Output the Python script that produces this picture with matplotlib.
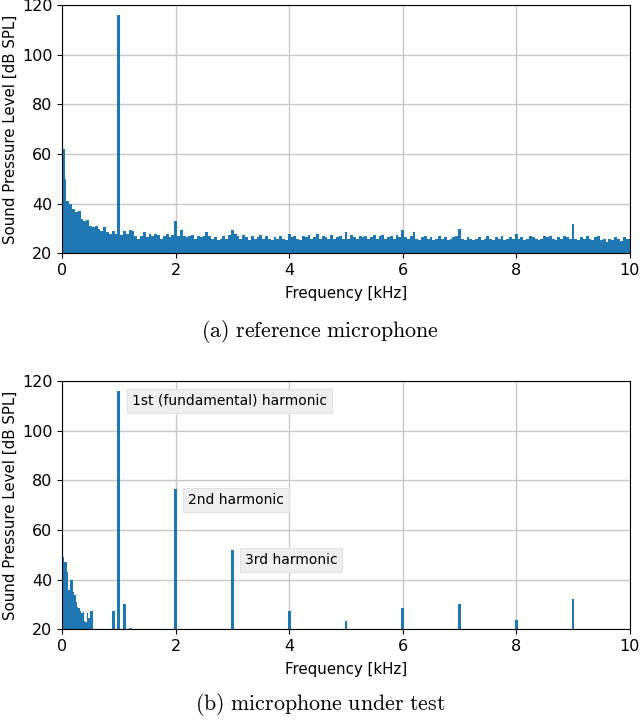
import numpy as np
import matplotlib
matplotlib.use("Agg")
import matplotlib.pyplot as plt

plt.rcParams['mathtext.fontset'] = 'cm'

# ---------------- data: reference microphone (0.05 kHz bins) ----------------
ref_step_khz = 0.05
ref_0_1 = [62, 50, 41, 40, 38, 36.5, 37, 34, 33, 33.5, 31, 30.5, 31, 30, 29, 30.5, 28.5, 28, 29, 28]
ref_1 = [116]
ref_1_2 = [27.5, 29, 28, 29.5, 29, 27, 26, 27, 28.5, 26.5, 28, 27, 28, 27.5, 26, 27, 28, 26.5, 27.5, 33]
ref_2_3 = [27, 29.5, 27, 26.5, 27, 27.5, 26, 27, 26.5, 27, 28.5, 27, 26, 26.5, 25.5, 26, 27, 26, 27.5, 29.5]
ref_3_4 = [28, 27, 26, 27.5, 26.5, 25.5, 27, 26, 26.5, 27.5, 26, 27, 26, 25.5, 26.5, 26, 27, 26, 25.5, 28]
ref_4_5 = [26.5, 27, 26, 25.5, 27, 26.5, 27.5, 26, 26.5, 28, 26, 27, 26.5, 26, 27.5, 26, 26.5, 27, 26, 28.5]
ref_5_6 = [26, 27.5, 26.5, 26, 27, 26.5, 27, 26, 26.5, 27.5, 26, 27, 27.5, 26, 26.5, 27, 26, 27.5, 26.5, 29.5]
ref_6_7 = [26.5, 26, 27, 28.5, 26, 25.5, 26.5, 27, 26, 26.5, 25.5, 26, 27, 26, 26.5, 25.5, 26, 26.5, 27, 30]
ref_7_8 = [26, 25.5, 26.5, 26, 25.5, 26, 26.5, 25.5, 26, 27, 26, 25.5, 26.5, 26, 27, 25.5, 26, 26.5, 26, 28]
ref_8_9 = [26, 26.5, 25.5, 26, 27, 26.5, 26, 25.5, 26, 27, 26.5, 27, 26, 25.5, 26.5, 26, 27, 26.5, 26, 32]
ref_9_10 = [26, 25.5, 26.5, 26, 27, 26, 25.5, 26.5, 27, 25.5, 26, 24.5, 26, 25.5, 26.5, 26, 25, 26.5, 26, 26]

# ---------------- data: microphone under test ----------------
dut_low_step_khz = 0.025
dut_low_levels = [50, 49, 47, 47, 43, 36, 40, 40, 35, 34, 31, 29, 28.5, 27.5, 26.5, 27,
                  23.5, 23, 26.5, 24.5, 27.5, 27.5]
dut_spike_freqs = [0.9, 1.0, 1.1, 1.2, 2.0, 3.0, 4.0, 5.0, 6.0, 7.0, 8.0, 9.0]
dut_spike_levels = [27.5, 116, 30, 20.5, 76.5, 52, 27.5, 23.5, 28.5, 30, 23.8, 32.3]

annot_texts = ["1st (fundamental) harmonic", "2nd harmonic", "3rd harmonic"]
annot_x = [1.23, 2.22, 3.22]
annot_y = [112, 72, 48]

xticks = [0, 2, 4, 6, 8, 10]
yticks = [20, 40, 60, 80, 100, 120]
xlabel = "Frequency [kHz]"
ylabel = "Sound Pressure Level [dB SPL]"
captions = ["(a) reference microphone", "(b) microphone under test"]

blue = '#1f77b4'

ref_levels = (ref_0_1 + ref_1 + ref_1_2 + ref_2_3 + ref_3_4 + ref_4_5 + ref_5_6
              + ref_6_7 + ref_7_8 + ref_8_9 + ref_9_10)
ref_freqs = np.arange(len(ref_levels)) * ref_step_khz
# bar edges: clipped at 0 so that the first bin is not hidden by the spine
ref_left = np.maximum(ref_freqs - ref_step_khz / 2, 0)
ref_right = ref_freqs + ref_step_khz / 2
ref_right[0] = ref_step_khz * 0.9
ref_left[1] = ref_right[0]
dut_low_freqs = np.arange(len(dut_low_levels)) * dut_low_step_khz
dut_left = np.maximum(dut_low_freqs - dut_low_step_khz / 2, 0)
dut_right = dut_low_freqs + dut_low_step_khz / 2

fig = plt.figure(figsize=(6.4, 7.2), dpi=100)
ax1 = fig.add_axes([0.097, 0.648, 0.887, 0.345])
ax2 = fig.add_axes([0.097, 0.126, 0.887, 0.345])

ax1.bar(ref_left, ref_levels, width=ref_right - ref_left, align='edge',
        color=blue, linewidth=0, zorder=2)
ax2.bar(dut_left, dut_low_levels, width=dut_right - dut_left, align='edge',
        color=blue, linewidth=0, zorder=2)
ax2.bar(dut_spike_freqs, dut_spike_levels, width=0.05, color=blue, linewidth=0, zorder=2)

for t, x, y in zip(annot_texts, annot_x, annot_y):
    ax2.text(x, y, t, ha='left', va='center', fontsize=10, zorder=3,
             bbox=dict(boxstyle='square,pad=0.35', fc='#efefef', ec='#e2e2e2', lw=0.8))

for ax in (ax1, ax2):
    ax.set_xlim(0, 10)
    ax.set_ylim(20, 120)
    ax.set_xticks(xticks)
    ax.set_yticks(yticks)
    ax.grid(True, color='#c8c8c8', linewidth=1.0, zorder=0)
    ax.set_axisbelow(True)
    ax.tick_params(labelsize=11.5)
    ax.set_xlabel(xlabel, fontsize=10.8, labelpad=6)
    ax.set_ylabel(ylabel, fontsize=10.8, labelpad=3)

fig.text(0.5, 0.539, r'$\mathrm{(a)\ reference\ microphone}$', ha='center', va='center', fontsize=15.8)
fig.text(0.5, 0.021, r'$\mathrm{(b)\ microphone\ under\ test}$', ha='center', va='center', fontsize=15.8)

fig.savefig('out.png', dpi=100)
